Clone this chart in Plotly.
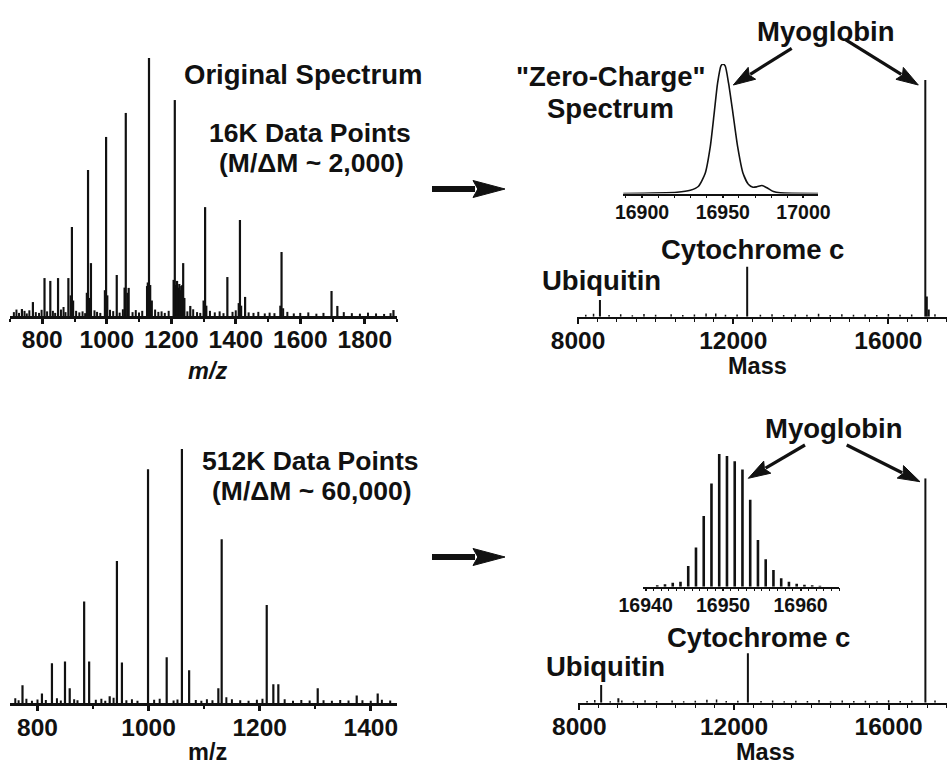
import math
import plotly.graph_objects as go

W, H = 947, 766
INK = "#111111"
FONT = "Liberation Sans"

# ---------------- data ----------------
# 16K-point ESI spectrum: main peaks (m/z, relative intensity %)
orig16k_mz = [737, 771, 807, 825, 849, 881, 892, 942, 951, 998, 1031, 1059, 1068,
              1125, 1131, 1211, 1218, 1225, 1231, 1237, 1259, 1305, 1374, 1413,
              1429, 1542, 1697, 1715, 1889]
orig16k_int = [2.7, 5.4, 14.7, 13.6, 14.7, 14.7, 34.5, 56.6, 20.5, 69.4, 15.9, 78.7, 10.9,
               11.6, 100, 83.7, 13.6, 12.4, 11.6, 20.5, 3.9, 42.2, 15.1, 37.2,
               7.4, 24.8, 9.7, 3.9, 2.3]
# unresolved shoulders at the base of the strong charge states
shoulder16k_mz = [888, 896, 938, 946, 994, 1002, 1055, 1064, 1127, 1135, 1140,
                  1207, 1214, 1221, 1228, 1234, 1241, 1300, 1309, 1409, 1417, 1538, 1547]
shoulder16k_int = [8, 6, 9, 7, 10, 8, 11, 9, 13, 12, 6,
                   14, 12, 11, 10, 12, 7, 6, 4, 5, 4, 4, 3]
# baseline chemical noise
noise16k_mz = [712, 720, 728, 745, 752, 760, 780, 790, 798, 815, 833, 840, 858, 866, 872,
               905, 915, 925, 933, 962, 970, 980, 1010, 1020, 1040, 1050, 1080, 1090,
               1100, 1110, 1150, 1160, 1170, 1180, 1192, 1250, 1268, 1280, 1290, 1320,
               1335, 1350, 1362, 1390, 1400, 1440, 1455, 1470, 1490, 1505, 1520, 1560,
               1580, 1600, 1625, 1650, 1672, 1735, 1760, 1785, 1810, 1835, 1860, 1880]
noise16k_int = [1.5, 2.5, 1.2, 2.0, 1.0, 2.2, 1.5, 1.2, 2.4, 1.8, 2.0, 1.2, 2.5, 3.5, 1.5,
                2.0, 1.4, 1.8, 1.1, 2.2, 1.6, 1.2, 2.4, 1.9, 1.3, 2.6, 1.5, 2.3,
                1.4, 2.0, 2.5, 1.6, 1.8, 1.2, 2.0, 1.8, 2.6, 1.5, 1.2, 2.0,
                1.4, 1.8, 1.1, 1.6, 2.2, 1.4, 1.2, 1.6, 1.0, 1.3, 1.1, 1.6,
                1.0, 1.2, 1.4, 0.9, 1.2, 1.5, 1.1, 0.9, 1.3, 1.0, 0.8, 1.1]

# 512K-point spectrum: peaks (m/z, relative intensity %)
hr512k_mz = [773, 808, 826, 849.5, 858, 884, 893, 930, 943, 952, 999, 1032.6, 1060,
             1073, 1125.6, 1131.6, 1212.7, 1224.6, 1233.6, 1304.5, 1374.7, 1412.5]
hr512k_int = [7.1, 3.9, 15.7, 16.4, 5.9, 40.0, 16.4, 2.8, 56.0, 16.0, 92.0, 18.1, 100,
              13.0, 5.9, 64.5, 38.7, 7.5, 7.5, 5.9, 3.1, 3.9]
noise512k_mz = [760, 766, 780, 790, 800, 815, 835, 842, 866, 872, 905, 915, 922, 937,
                960, 970, 980, 1010, 1020, 1045, 1052, 1085, 1095, 1105, 1115, 1140,
                1150, 1165, 1180, 1195, 1205, 1245, 1260, 1275, 1290, 1315, 1330, 1345,
                1360, 1385, 1400, 1420, 1435]
noise512k_int = [2.0, 1.2, 1.8, 1.0, 1.5, 1.3, 2.0, 1.1, 1.6, 1.2, 1.4, 1.8, 1.0, 2.2,
                 1.2, 1.6, 1.0, 1.4, 1.8, 1.1, 1.5, 1.3, 1.0, 1.6, 1.2, 2.4,
                 1.6, 1.2, 1.0, 1.4, 1.8, 1.6, 1.0, 1.3, 1.1, 1.2, 1.0, 1.3,
                 1.1, 1.2, 1.0, 1.4, 1.1]

# deconvoluted ("zero-charge") mass spectra, relative intensity %
mass16k = [8565, 12360, 16951, 16990, 17040]
mass16k_int = [7.1, 21.1, 100, 8.5, 3.0]
mass512k = [8565, 9010, 12360, 16951]
mass512k_int = [7.9, 2.0, 22.0, 100]
massnoise = [8200, 8400, 8800, 9100, 9400, 9700, 10000, 10400, 10700, 11000, 11300,
             11550, 11800, 12100, 12700, 13000, 13300, 13600, 13900, 14200, 14500,
             14800, 15100, 15400, 15700, 16000, 16300, 16600, 17200]
massnoise_int = [0.8, 1.2, 0.7, 1.0, 0.6, 1.1, 0.8, 1.0, 0.7, 0.9, 1.3,
                 1.4, 0.8, 0.9, 0.8, 1.0, 0.7, 0.9, 0.8, 1.2, 0.7,
                 1.0, 0.8, 0.9, 0.7, 1.1, 0.8, 0.9, 1.0]

# low-resolution myoglobin profile (inset, top)
zc_mass = [16888, 16921.7, 16929.9, 16935, 16939.2, 16942.3, 16944.7, 16946.8, 16948.9,
           16950.1, 16951.5, 16953.6, 16956.3, 16959.2, 16962.5, 16966, 16968.7,
           16971.2, 16974.3, 16977.4, 16981.4, 16985.6, 17009]
zc_int = [0, 1.0, 2.5, 5.6, 15.9, 36.4, 62.1, 85.2, 98.5, 100, 98.5, 85.2, 62.1, 36.4,
          15.9, 6.9, 4.8, 5.2, 6.2, 4.4, 1.5, 0.5, 0]

# resolved isotopic cluster of myoglobin (inset, bottom)
iso_mass = [16941.5, 16942.5, 16943.5, 16944.5, 16945.5, 16946.5, 16947.5, 16948.5,
            16949.5, 16950.5, 16951.5, 16952.5, 16953.5, 16954.5, 16955.5, 16956.5,
            16957.5, 16958.5, 16959.5, 16960.5, 16961.5, 16962.5]
iso_int = [1.1, 1.9, 3.0, 3.8, 15.6, 29.6, 53.3, 77.8, 100, 98.5, 94.6, 88.4, 65.6,
           35.2, 20.6, 12.6, 6.3, 3.8, 2.3, 1.5, 1.1, 0.8]


# ---------------- helpers ----------------
def fx(p):
    return p / W


def fy(p):
    return 1 - p / H


def sticks(xs, ys):
    X, Y = [], []
    for x, y in zip(xs, ys):
        X += [x, x, None]
        Y += [0, y, None]
    return X, Y


fig = go.Figure()


def stick_trace(xs, ys, n, width, color=INK):
    X, Y = sticks(xs, ys)
    fig.add_trace(go.Scatter(x=X, y=Y, mode="lines", xaxis=f"x{n}", yaxis=f"y{n}",
                             line=dict(color=color, width=width), hoverinfo="skip",
                             showlegend=False))


def axis_pair(n, xdom, ybase, ytop, xrange, dtick, minor, lw, fsize, standoff, ticklen=5):
    key = "" if n == 1 else str(n)
    fig.layout[f"xaxis{key}"] = dict(
        domain=[fx(xdom[0]), fx(xdom[1])], range=xrange, anchor=f"y{n}",
        showline=True, linecolor=INK, linewidth=lw, mirror=False, automargin=False,
        ticks="outside", ticklen=ticklen, tickwidth=lw, tickcolor=INK,
        tick0=0, dtick=dtick, tickformat="d", showgrid=False, zeroline=False,
        ticklabelstandoff=standoff,
        tickfont=dict(family=FONT, size=fsize, color=INK, weight="bold"),
        minor=dict(ticks="outside", ticklen=3, tickwidth=max(1, lw - 1),
                   tickcolor=INK, dtick=minor, showgrid=False),
        fixedrange=True)
    fig.layout[f"yaxis{key}"] = dict(
        domain=[fy(ybase), fy(ytop)], range=[0, 100], anchor=f"x{n}",
        visible=False, automargin=False, fixedrange=True)


# ---- panel 1: original 16K spectrum ----
axis_pair(1, (10, 397), 316, 58, [700, 1900], 200, 100, 3, 24.5, -5)
stick_trace(noise16k_mz, noise16k_int, 1, 2)
stick_trace(shoulder16k_mz, shoulder16k_int, 1, 2)
stick_trace(orig16k_mz, orig16k_int, 1, 2.2)

# ---- panel 2: deconvoluted 16K ----
axis_pair(2, (576.7, 947), 316.7, 80, [7966, 17510], 4000, 500, 2, 24.5, -4)
stick_trace(massnoise, massnoise_int, 2, 1.5)
stick_trace(mass16k, mass16k_int, 2, 2)

# ---- inset: zero-charge profile ----
axis_pair(3, (623.3, 818), 193.5, 64, [16888.4, 17009], 50, 10, 1.5, 19.5, -3, ticklen=3)
fig.add_trace(go.Scatter(x=zc_mass, y=zc_int, mode="lines", xaxis="x3", yaxis="y3",
                         line=dict(color=INK, width=1.6, shape="spline", smoothing=0.6),
                         hoverinfo="skip", showlegend=False))

# ---- panel 4: 512K spectrum ----
axis_pair(4, (10, 396.7), 703.3, 449, [750.5, 1446.7], 200, 100, 3, 24.5, -5)
stick_trace(noise512k_mz, noise512k_int, 4, 2)
stick_trace(hr512k_mz, hr512k_int, 4, 2.2)

# ---- panel 5: deconvoluted 512K ----
axis_pair(5, (578, 947), 702.7, 478.3, [7966, 17510], 4000, 500, 2, 24.5, -4)
stick_trace(massnoise, massnoise_int, 5, 1.5)
stick_trace(mass512k, mass512k_int, 5, 2)

# ---- inset: isotopic cluster ----
axis_pair(6, (643.3, 839.3), 586.7, 454, [16939.7, 16965], 10, 1, 1.5, 19.5, -3, ticklen=3)
stick_trace(iso_mass, iso_int, 6, 2.6)

# ---------------- text ----------------
def label(text, x, y, size=27.5, italic=False):
    fig.add_annotation(text=text, x=fx(x), y=fy(y), xref="paper", yref="paper",
                       xanchor="center", yanchor="middle", showarrow=False,
                       font=dict(family=FONT, size=size, color=INK, weight="bold",
                                 style="italic" if italic else "normal"))


label("Original Spectrum", 303, 74)
label("16K Data Points", 310, 133, size=26.5)
label("(M/\u0394M ~ 2,000)", 311, 163, size=26.5)
label("m/z", 207, 371, size=23.5, italic=True)
label("Myoglobin", 825, 31)
label("\"Zero-Charge\"", 611, 76)
label("Spectrum", 610, 108)
label("Cytochrome c", 752, 250)
label("Ubiquitin", 601, 280)
label("Mass", 757, 366, size=23.5)

label("512K Data Points", 310, 461, size=26.5)
label("(M/\u0394M ~ 60,000)", 311, 491, size=26.5)
label("m/z", 207, 752, size=23.5)
label("Myoglobin", 833, 428)
label("Cytochrome c", 758, 637)
label("Ubiquitin", 605, 666)
label("Mass", 765, 752, size=23.5)


# ---------------- arrows ----------------
def arrow(x0, y0, x1, y1, shaft, head_len, head_half):
    dx, dy = x1 - x0, y1 - y0
    L = math.hypot(dx, dy)
    ux, uy = dx / L, dy / L
    bx, by = x1 - ux * head_len, y1 - uy * head_len
    nx, ny = -uy, ux
    fig.add_shape(type="line", xref="paper", yref="paper",
                  x0=fx(x0), y0=fy(y0), x1=fx(bx + ux * 2), y1=fy(by + uy * 2),
                  line=dict(color=INK, width=shaft))
    path = (f"M {fx(x1)},{fy(y1)} L {fx(bx + nx * head_half)},{fy(by + ny * head_half)} "
            f"L {fx(bx + ux * head_len * 0.15)},{fy(by + uy * head_len * 0.15)} "
            f"L {fx(bx - nx * head_half)},{fy(by - ny * head_half)} Z")
    fig.add_shape(type="path", xref="paper", yref="paper", path=path,
                  fillcolor=INK, line=dict(color=INK, width=1))


arrow(432, 189, 505, 189, 6, 32, 8.5)
arrow(432, 557, 505, 557, 6, 32, 8.5)
arrow(791.7, 48.3, 733.3, 85, 3.2, 22, 7)
arrow(845, 39.3, 918.3, 85, 3.2, 22, 7)
arrow(805, 445, 748.3, 478.3, 3.2, 22, 7)
arrow(846.7, 445, 920, 481.7, 3.2, 22, 7)

fig.update_layout(width=W, height=H,
                  margin=dict(l=0, r=0, t=0, b=0, pad=0, autoexpand=False),
                  paper_bgcolor="white", plot_bgcolor="white", showlegend=False)

fig.write_html("out.html", config=dict(displayModeBar=False))
